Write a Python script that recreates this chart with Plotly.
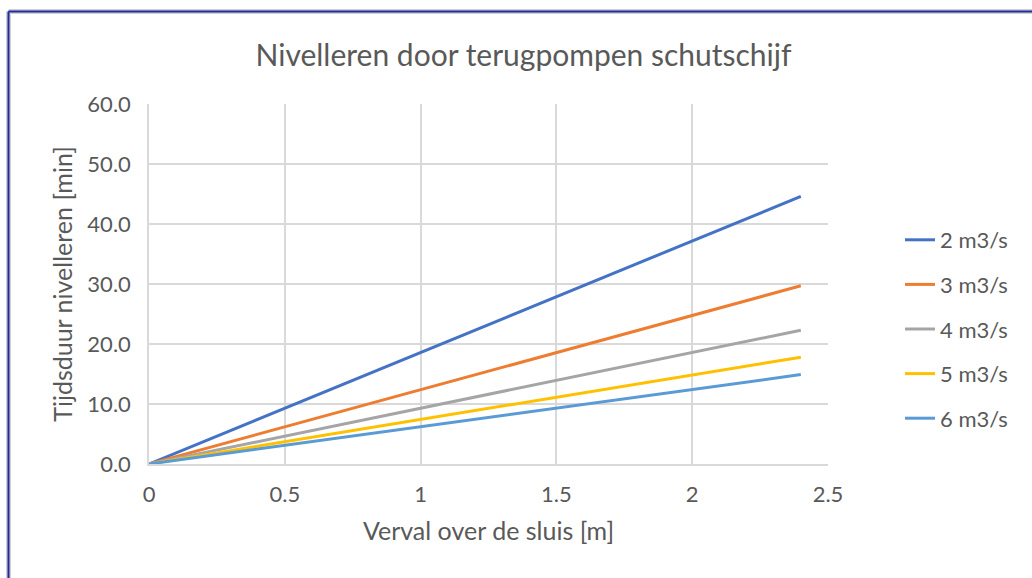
import plotly.graph_objects as go

# Verval (m) en tijdsduur nivelleren (min) per pompdebiet
verval = [0.0, 2.4]
series = {
    "2 m3/s": [0.0, 44.6],
    "3 m3/s": [0.0, 29.7],
    "4 m3/s": [0.0, 22.3],
    "5 m3/s": [0.0, 17.8],
    "6 m3/s": [0.0, 14.9],
}
colors = ["#4472C4", "#ED7D31", "#A5A5A5", "#FFC000", "#5B9BD5"]

x_ticks = [0, 0.5, 1, 1.5, 2, 2.5]
y_ticks = [0, 10, 20, 30, 40, 50, 60]

FONT = "Lato"
GREY = "#595959"

fig = go.Figure()
for i, (name, vals) in enumerate(series.items()):
    fig.add_trace(go.Scatter(
        x=verval, y=vals, mode="lines", name=name,
        line=dict(color=colors[i], width=3),
        legendgroup=name,
    ))

W, H = 1032, 578
L, R, T, B = 149, 204, 104, 114
pw, ph = W - L - R, H - T - B


def px_to_paper_x(px):
    return (px - L) / pw


def px_to_paper_y(py):
    return (H - B - py) / ph


# Kaderlijn links en boven
shapes = []
x0, y0 = px_to_paper_x(8.5), px_to_paper_y(11.5)
x_end, y_end = px_to_paper_x(W + 5), px_to_paper_y(H + 5)
for col, w in (("#D0D0D0", 5), ("#1F2A9C", 2)):
    shapes.append(dict(type="line", xref="paper", yref="paper",
                       x0=x0, y0=y0, x1=x_end, y1=y0,
                       line=dict(color=col, width=w)))
    shapes.append(dict(type="line", xref="paper", yref="paper",
                       x0=x0, y0=y0, x1=x0, y1=y_end,
                       line=dict(color=col, width=w)))

fig.update_layout(
    width=W, height=H,
    margin=dict(l=L, r=R, t=T, b=B),
    paper_bgcolor="white", plot_bgcolor="white",
    font=dict(family=FONT, color=GREY),
    title=dict(text="Nivelleren door terugpompen schutschijf",
               x=px_to_paper_x(523.5), xref="paper", xanchor="center",
               y=1 - 55 / H, yanchor="middle",
               font=dict(size=30, color=GREY, family=FONT)),
    xaxis=dict(range=[0, 2.5], tickvals=x_ticks,
               showgrid=True, gridcolor="#D9D9D9", gridwidth=1.5,
               zeroline=False, showline=True, linecolor="#D9D9D9", linewidth=1.5,
               ticks="", tickfont=dict(size=22, color=GREY), ticklabelstandoff=10,
               title=dict(text="Verval over de sluis [m]",
                          font=dict(size=25, color=GREY), standoff=16)),
    yaxis=dict(range=[0, 60], tickvals=y_ticks, tickformat=".1f",
               showgrid=True, gridcolor="#D9D9D9", gridwidth=1.5,
               zeroline=False, showline=True, linecolor="#D9D9D9", linewidth=1.5,
               ticks="", tickfont=dict(size=22, color=GREY), ticklabelstandoff=12,
               title=dict(text="Tijdsduur nivelleren [min]",
                          font=dict(size=25, color=GREY), standoff=8)),
    legend=dict(x=px_to_paper_x(900), xanchor="left",
                y=px_to_paper_y(219), yanchor="top",
                font=dict(size=22, color=GREY), tracegroupgap=13,
                bgcolor="rgba(0,0,0,0)"),
    shapes=shapes,
)

fig.write_html("out.html")
